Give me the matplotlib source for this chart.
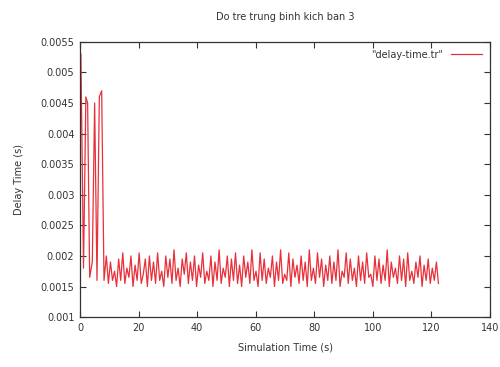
import numpy as np
import matplotlib
matplotlib.use("Agg")
import matplotlib.pyplot as plt

title = "Do tre trung binh kich ban 3"
xlabel = "Simulation Time (s)"
ylabel = "Delay Time (s)"
legend_label = '"delay-time.tr"'

# Early burst region
t_early = [0.3, 1.2, 2.0, 2.6, 3.3, 4.2, 5.0, 5.8, 6.6, 7.4, 8.2, 9.0]
y_early = [5.3, 1.8, 4.6, 4.5, 1.65, 1.9, 4.5, 1.6, 4.6, 4.7, 1.6, 2.0]

# Steady oscillation region (values in ms-like units, scaled by 1e-3 later)
y_steady = [
    1.55, 1.9, 1.6, 1.75, 1.5, 1.95, 1.6, 2.05, 1.55, 1.8,
    1.65, 2.0, 1.5, 1.85, 1.6, 2.05, 1.55, 1.7, 1.95, 1.5,
    2.0, 1.6, 1.9, 1.55, 2.05, 1.6, 1.75, 1.5, 2.0, 1.65,
    1.95, 1.55, 2.1, 1.6, 1.8, 1.5, 1.95, 1.7, 2.05, 1.55,
    1.9, 1.6, 2.0, 1.5, 1.85, 1.65, 2.05, 1.55, 1.75, 1.6,
    2.0, 1.5, 1.9, 1.6, 2.1, 1.55, 1.8, 1.65, 2.0, 1.5,
    1.95, 1.6, 2.05, 1.55, 1.85, 1.5, 2.0, 1.65, 1.9, 1.55,
    2.1, 1.6, 1.75, 1.5, 2.05, 1.6, 1.95, 1.55, 1.8, 1.65,
    2.0, 1.5, 1.9, 1.6, 2.1, 1.55, 1.7, 1.6, 2.05, 1.5,
    1.95, 1.65, 1.85, 1.55, 2.0, 1.6, 1.9, 1.5, 2.1, 1.6,
    1.8, 1.55, 2.05, 1.65, 1.95, 1.5, 1.85, 1.6, 2.0, 1.55,
    1.9, 1.6, 2.1, 1.5, 1.75, 1.65, 2.05, 1.55, 1.95, 1.6,
    1.8, 1.5, 2.0, 1.6, 1.9, 1.55, 2.05, 1.65, 1.7, 1.5,
    2.0, 1.6, 1.95, 1.55, 1.85, 1.6, 2.1, 1.5, 1.9, 1.65,
    1.8, 1.55, 2.0, 1.6, 1.95, 1.5, 2.05, 1.6, 1.75, 1.55,
    1.9, 1.65, 2.0, 1.5, 1.85, 1.6, 1.95, 1.55, 1.8, 1.6,
    1.9, 1.55,
]
t_steady = list(np.round(9.7 + 0.7 * np.arange(len(y_steady)), 2))

x_ticks = [0, 20, 40, 60, 80, 100, 120, 140]
y_ticks = [0.001, 0.0015, 0.002, 0.0025, 0.003, 0.0035, 0.004, 0.0045, 0.005, 0.0055]
y_tick_labels = ["0.001", "0.0015", "0.002", "0.0025", "0.003", "0.0035",
                 "0.004", "0.0045", "0.005", "0.0055"]

t = np.array(t_early + t_steady)
y = np.array(y_early + y_steady) * 1e-3

fig = plt.figure(figsize=(5.0, 3.67), dpi=100)
ax = fig.add_axes([0.16, 0.136, 0.82, 0.75])
ax.plot(t, y, color="#e8303a", lw=0.9, label=legend_label)
ax.set_xlim(0, 140)
ax.set_ylim(0.001, 0.0055)
ax.set_xticks(x_ticks)
ax.set_yticks(y_ticks)
ax.set_yticklabels(y_tick_labels)
ax.tick_params(direction="in", top=True, right=True, labelsize=7, colors="#333333",
               length=4, width=0.8, pad=4)
for s in ax.spines.values():
    s.set_color("#333333")
    s.set_linewidth(0.9)
ax.set_xlabel(xlabel, fontsize=7, color="#333333", labelpad=7)
ax.set_ylabel(ylabel, fontsize=7, color="#333333", labelpad=12)
fig.text(0.5 + 0.07, 0.955, title, ha="center", va="center", fontsize=7, color="#333333")
leg = ax.legend(loc="upper right", frameon=False, fontsize=7, handlelength=3.2,
                markerfirst=False, borderaxespad=0.4)
for txt in leg.get_texts():
    txt.set_color("#333333")
fig.savefig("out.png", dpi=100)
